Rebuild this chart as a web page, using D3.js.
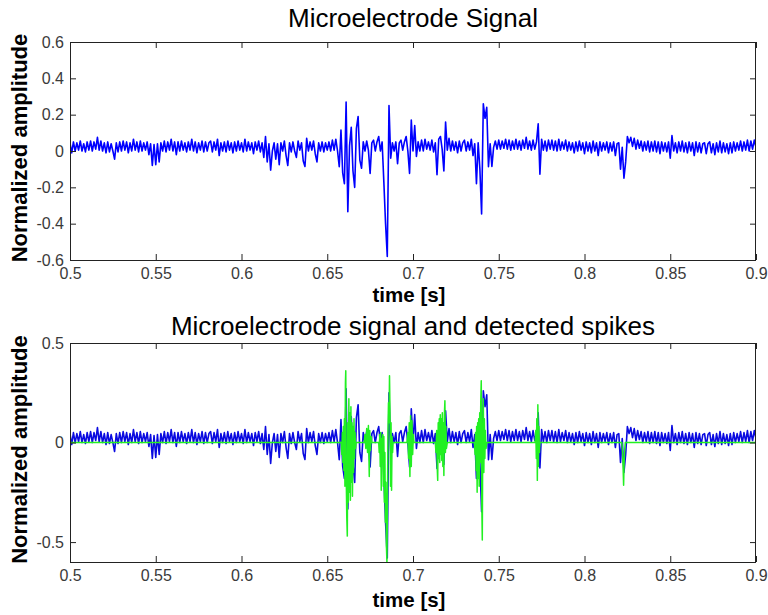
<!DOCTYPE html>
<html><head><meta charset="utf-8">
<script src="https://cdn.jsdelivr.net/npm/d3@7/dist/d3.min.js"></script>
<style>body{margin:0;background:#fff}svg{display:block}</style>
</head><body>
<svg id="c" width="768" height="615"></svg>
<script>
// ---- data ----
const xTicks = [0.5, 0.55, 0.6, 0.65, 0.7, 0.75, 0.8, 0.85, 0.9];
const xTickLabels = ["0.5", "0.55", "0.6", "0.65", "0.7", "0.75", "0.8", "0.85", "0.9"];
const topYTicks = [-0.6, -0.4, -0.2, 0, 0.2, 0.4, 0.6];
const topYTickLabels = ["-0.6", "-0.4", "-0.2", "0", "0.2", "0.4", "0.6"];
const bottomYTicks = [-0.5, 0, 0.5];
const bottomYTickLabels = ["-0.5", "0", "0.5"];
const titles = ["Microelectrode Signal", "Microelectrode signal and detected spikes"];
const xLabel = "time [s]";
const yLabel = "Normalized amplitude";

// microelectrode signal, one sample per millisecond starting at 0.5 s
const sampleStart = 0.5;
const samplePeriod = 0.001;
const signal = [
  0.045, -0.01, 0.05, 0.00, 0.045, 0.005, 0.055, 0.00, 0.04, -0.005,
  0.05, 0.005, 0.055, 0.00, 0.05, 0.01, 0.075, 0.005, 0.055, 0.00,
  0.045, -0.01, 0.05, -0.005, 0.04, 0.00, -0.045, 0.045, -0.005, 0.05,
  0.00, 0.055, 0.005, 0.05, -0.01, 0.045, 0.00, 0.065, 0.005, 0.05,
  -0.005, 0.055, 0.00, 0.045, 0.005, 0.05, -0.02, 0.04, -0.08, 0.035,
  -0.075, 0.04, -0.06, 0.045, 0.00, 0.055, -0.005, 0.05, 0.005, 0.065,
  0.00, 0.05, -0.02, 0.05, 0.00, 0.055, 0.005, 0.045, -0.005, 0.05,
  0.005, 0.065, 0.00, 0.05, -0.01, 0.045, 0.005, 0.055, -0.005, 0.05,
  0.00, 0.045, 0.055, -0.005, 0.05, 0.005, 0.065, -0.025, 0.045, 0.00,
  0.05, -0.005, 0.055, 0.005, 0.045, -0.01, 0.05, 0.00, 0.055, 0.005,
  0.045, -0.005, 0.065, 0.00, 0.05, 0.005, 0.045, -0.015, 0.05, 0.005,
  0.055, -0.005, 0.045, -0.035, 0.08, -0.06, 0.04, -0.105, 0.00, 0.045,
  -0.045, 0.04, -0.075, 0.045, 0.00, 0.055, -0.025, -0.08, 0.045, -0.005,
  0.05, 0.00, -0.035, 0.055, 0.005, 0.045, -0.055, -0.085, 0.07, 0.00,
  0.05, 0.005, 0.055, -0.015, -0.06, 0.045, 0.00, 0.05, -0.005, 0.045,
  0.005, 0.05, 0.00, 0.06, 0.005, 0.065, 0.00, -0.086, 0.115, -0.12,
  -0.18, 0.27, -0.334, 0.03, 0.13, -0.11, -0.20, 0.125, 0.19, -0.05,
  -0.095, 0.05, 0.00, 0.055, 0.005, -0.123, 0.045, 0.06, 0.00, 0.05,
  0.08, 0.00, 0.05, -0.17, -0.40, -0.58, 0.25, -0.04, 0.045, 0.00,
  0.05, -0.07, 0.045, 0.06, 0.005, 0.05, 0.08, 0.00, -0.123, 0.17,
  0.00, 0.14, -0.03, 0.05, 0.00, 0.06, 0.00, 0.065, 0.01, 0.05,
  0.005, 0.06, -0.005, 0.045, -0.13, 0.065, 0.08, 0.01, -0.11, 0.16,
  0.005, 0.07, 0.00, 0.055, 0.005, 0.05, -0.01, 0.055, 0.00, 0.045,
  0.06, 0.00, 0.05, 0.005, 0.065, -0.025, 0.04, -0.18, 0.045, -0.10,
  -0.347, 0.26, 0.18, 0.24, -0.086, 0.04, -0.085, 0.02, 0.055, 0.01,
  0.06, 0.01, 0.055, 0.015, 0.065, 0.01, 0.06, 0.005, 0.055, 0.01,
  0.065, 0.01, 0.055, 0.005, 0.06, 0.015, 0.075, 0.01, 0.055, 0.005,
  0.06, 0.01, 0.05, 0.15, -0.128, 0.065, 0.005, 0.055, 0.00, 0.06,
  0.01, 0.06, 0.005, 0.055, 0.00, 0.065, 0.005, 0.05, 0.01, 0.06,
  0.00, 0.05, 0.005, 0.045, -0.01, 0.05, 0.00, 0.055, 0.005, 0.045,
  -0.015, 0.05, 0.00, 0.045, -0.01, 0.055, 0.00, 0.045, -0.025, 0.05,
  0.00, 0.045, 0.005, 0.05, -0.01, 0.045, 0.00, 0.05, -0.025, 0.04,
  0.045, -0.10, 0.02, -0.15, -0.06, 0.08, 0.045, 0.075, 0.025, 0.07,
  0.01, 0.06, 0.015, 0.055, 0.00, 0.05, 0.005, 0.055, -0.005, 0.05,
  0.00, 0.055, -0.005, 0.05, -0.015, 0.05, 0.00, 0.045, -0.005, 0.05,
  -0.04, 0.085, 0.00, 0.045, -0.01, 0.05, 0.00, 0.055, -0.005, 0.045,
  -0.01, 0.05, 0.00, 0.045, -0.025, 0.05, -0.005, 0.045, -0.01, 0.04,
  0.045, -0.015, 0.04, 0.05, -0.01, 0.04, -0.02, 0.045, -0.005, 0.055,
  -0.01, 0.045, -0.005, 0.04, -0.015, 0.045, -0.01, 0.05, 0.00, 0.045,
  0.005, 0.055, 0.00, 0.05, 0.005, 0.06, 0.00, 0.055, 0.01, 0.06,
  0.02
];

// detected spikes (green trace, zero outside the detected windows)
const spikeTimes = [
  0.5,
  0.6582, 0.6585, 0.6588, 0.6591, 0.6594, 0.6597, 0.6600, 0.6603, 0.6606, 0.6608,
  0.6611, 0.6614, 0.6617, 0.6620, 0.6623, 0.6626, 0.6629, 0.6632, 0.6635, 0.6638,
  0.6641, 0.6644, 0.6647, 0.6650, 0.6653, 0.6656, 0.6659, 0.6662, 0.6665, 0.6668,
  0.6715, 0.6720, 0.6725, 0.6730, 0.6735, 0.6740, 0.6745, 0.6748, 0.6752, 0.6756, 0.6760,
  0.6800, 0.6803, 0.6806, 0.6809, 0.6812, 0.6815, 0.6818, 0.6821, 0.6824, 0.6827,
  0.6830, 0.6833, 0.6836, 0.6839, 0.6842, 0.6845, 0.6848, 0.6851, 0.6854, 0.6857,
  0.6860, 0.6863, 0.6866, 0.6869, 0.6872, 0.6875, 0.6878, 0.6881, 0.6884,
  0.6965, 0.6970, 0.6974, 0.6978, 0.6982, 0.6986, 0.6990, 0.6994, 0.6998, 0.7002, 0.7006,
  0.7130, 0.7134, 0.7138, 0.7141, 0.7144, 0.7147, 0.7150, 0.7153, 0.7156, 0.7159,
  0.7162, 0.7165, 0.7168, 0.7171, 0.7174, 0.7177, 0.7180, 0.7183, 0.7186, 0.7189,
  0.7192, 0.7195, 0.7200,
  0.7358, 0.7362, 0.7365, 0.7368, 0.7371, 0.7374, 0.7377, 0.7380, 0.7383, 0.7386,
  0.7389, 0.7392, 0.7395, 0.7398, 0.7401, 0.7404, 0.7407, 0.7410, 0.7413, 0.7416,
  0.7419, 0.7422, 0.7426, 0.7430,
  0.7712, 0.7716, 0.7719, 0.7722, 0.7725, 0.7728, 0.7731, 0.7734, 0.7737, 0.7740,
  0.8218, 0.8222, 0.8225, 0.8228, 0.8231, 0.8234, 0.8238,
  0.9
];
const spikeValues = [
  0,
  0, -0.06, 0.05, -0.10, 0.08, -0.14, 0.12, -0.22, 0.30, 0.36,
  -0.20, -0.38, -0.47, 0.10, -0.30, 0.22, -0.25, 0.15, -0.29, 0.18,
  -0.20, 0.10, -0.27, 0.08, -0.15, 0.12, -0.08, 0.05, -0.03, 0,
  0, 0.04, -0.03, 0.07, -0.05, 0.085, -0.17, 0.06, -0.04, 0.03, 0,
  0, -0.05, 0.04, -0.12, 0.05, -0.24, 0.02, -0.10, 0.04, -0.22,
  0.03, -0.30, -0.05, -0.40, -0.20, -0.52, -0.60, -0.30, 0.05, 0.20,
  0.10, 0.335, 0.15, -0.22, 0.10, -0.24, 0.03, -0.05, 0,
  0, 0.05, -0.08, 0.10, -0.17, 0.135, -0.12, 0.11, -0.06, 0.04, 0,
  0, -0.05, 0.06, -0.12, -0.19, 0.10, -0.08, 0.12, -0.10, 0.14,
  -0.06, 0.12, -0.09, 0.15, -0.12, 0.10, -0.165, 0.14, 0.21, -0.05,
  0.08, -0.03, 0,
  0, -0.06, 0.05, -0.14, 0.08, -0.25, 0.10, -0.18, 0.12, -0.22,
  0.15, -0.10, 0.20, 0.31, -0.30, -0.49, 0.05, 0.22, -0.15, 0.12,
  -0.08, 0.06, -0.03, 0,
  0, 0.06, -0.08, 0.12, -0.19, 0.19, -0.12, 0.08, -0.05, 0,
  0, -0.06, -0.12, -0.215, -0.10, -0.04, 0,
  0
];

// ---- drawing ----
const svg = d3.select("#c");
const FONT = "'Liberation Sans', Arial, Helvetica, sans-serif";
const left = 70, right = 756;
const panels = [
  { top: 42, bottom: 260, domain: [-0.6, 0.6], ticks: topYTicks, labels: topYTickLabels },
  { top: 343, bottom: 562, domain: [-0.6, 0.5], ticks: bottomYTicks, labels: bottomYTickLabels }
];
const x = d3.scaleLinear().domain([0.5, 0.9]).range([left, right]);
const blueData = signal.map((v, i) => ({ t: sampleStart + i * samplePeriod, v }));
const greenData = spikeTimes.map((t, i) => ({ t, v: spikeValues[i] }));

panels.forEach((p, k) => {
  const y = d3.scaleLinear().domain(p.domain).range([p.bottom, p.top]);
  const g = svg.append("g");
  const clipId = "clip" + k;
  svg.append("clipPath").attr("id", clipId).append("rect")
    .attr("x", left).attr("y", p.top).attr("width", right - left).attr("height", p.bottom - p.top);

  const line = d3.line().x(d => x(d.t)).y(d => y(d.v));
  const plot = g.append("g").attr("clip-path", `url(#${clipId})`);
  plot.append("path").datum(blueData).attr("d", line)
    .attr("fill", "none").attr("stroke", k === 0 ? "#0000ff" : "#0a0ae0").attr("stroke-width", 1.6).attr("stroke-linejoin", "round");
  if (k === 1) {
    plot.append("path").datum(greenData).attr("d", line)
      .attr("fill", "none").attr("stroke", "#22f022").attr("stroke-width", 1.5).attr("stroke-linejoin", "round");
  }

  const fmtX = (d) => xTickLabels[xTicks.indexOf(d)];
  const fmtY = (d) => p.labels[p.ticks.indexOf(d)];
  const axB = d3.axisBottom(x).tickValues(xTicks).tickFormat(fmtX).tickSizeInner(-6).tickSizeOuter(0).tickPadding(8);
  const axT = d3.axisTop(x).tickValues(xTicks).tickFormat("").tickSizeInner(-6).tickSizeOuter(0);
  const axL = d3.axisLeft(y).tickValues(p.ticks).tickFormat(fmtY).tickSizeInner(-6).tickSizeOuter(0).tickPadding(6);
  const axR = d3.axisRight(y).tickValues(p.ticks).tickFormat("").tickSizeInner(-6).tickSizeOuter(0);
  const axes = [
    g.append("g").attr("transform", `translate(0,${p.bottom})`).call(axB),
    g.append("g").attr("transform", `translate(0,${p.top})`).call(axT),
    g.append("g").attr("transform", `translate(${left},0)`).call(axL),
    g.append("g").attr("transform", `translate(${right},0)`).call(axR)
  ];
  axes.forEach(a => {
    a.select(".domain").remove();
    a.selectAll(".tick line").attr("stroke", "#222");
    a.selectAll("text").attr("font-family", FONT).attr("font-size", 16).attr("fill", "#3a3a3a");
  });
  g.append("rect").attr("x", left + 0.5).attr("y", p.top + 0.5)
    .attr("width", right - left - 1).attr("height", p.bottom - p.top)
    .attr("fill", "none").attr("stroke", "#222").attr("stroke-width", 1);

  g.append("text").attr("x", (left + right) / 2).attr("y", k === 0 ? 27 : 335)
    .attr("text-anchor", "middle").attr("font-family", FONT).attr("font-size", 26)
    .attr("fill", "#000").text(titles[k]);
  g.append("text").attr("x", (left + right) / 2 - 4).attr("y", k === 0 ? 302 : 607)
    .attr("text-anchor", "middle").attr("font-family", FONT).attr("font-size", 20.5)
    .attr("font-weight", "bold").attr("fill", "#000").text(xLabel);
  g.append("text").attr("transform", `translate(27,${(p.top + p.bottom) / 2 - 3}) rotate(-90)`)
    .attr("text-anchor", "middle").attr("font-family", FONT).attr("font-size", 22)
    .attr("font-weight", "bold").attr("fill", "#000").text(yLabel);
});
</script>
</body></html>
